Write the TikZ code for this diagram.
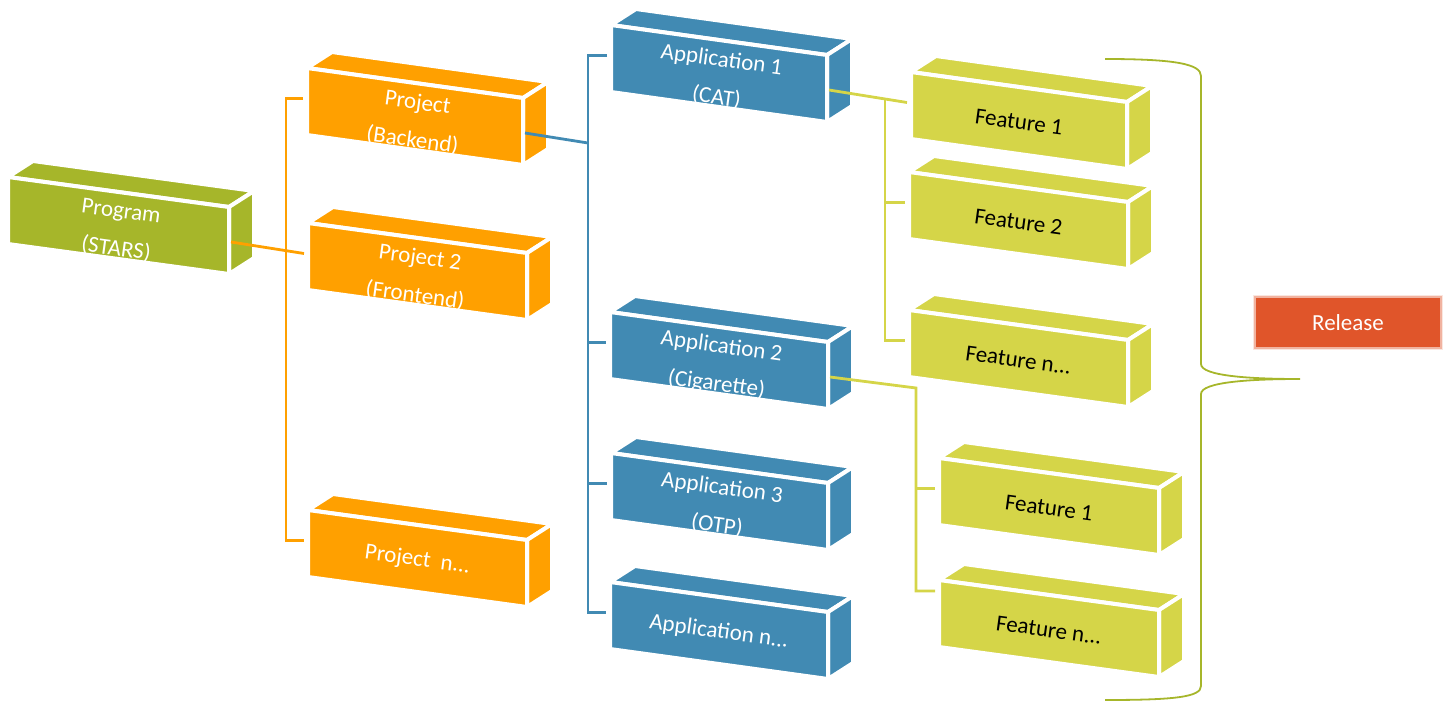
\documentclass[tikz,border=0pt]{standalone}
\usepackage{fontspec}
\setmainfont{Carlito}
\usetikzlibrary{calc}
\definecolor{gcol}{HTML}{A6B62A}
\definecolor{ocol}{HTML}{FFA000}
\definecolor{bcol}{HTML}{418AB3}
\definecolor{ycol}{HTML}{D5D548}
\definecolor{rcol}{HTML}{E0552A}
\tikzset{
  cubeface/.style={draw=white, line width=4, line join=miter},
  cubetext/.style={font=\fontsize{23}{38}\selectfont, align=center, rotate=-7.8, inner sep=0pt},
  conn/.style={line width=2.8},
}
\newcommand\cubebox[8]{%
  \begin{scope}[shift={(#2,#3)}]
    \filldraw[cubeface, fill=#5] (0,0) -- (25,-16) -- (#4+25,14) -- (#4,30) -- cycle;
    \filldraw[cubeface, fill=#5] (#4,30) -- (#4+25,14) -- (#4+25,81) -- (#4,97) -- cycle;
    \filldraw[cubeface, fill=#5] (0,0) -- (#4,30) -- (#4,97) -- (0,67) -- cycle;
    \node[cubetext, text=#6] (#1) at (#4/2,#8) {#7};
    \coordinate (#1-l) at (-4,30.5);
    \coordinate (#1-r) at (#4+2,65);
  \end{scope}}
\begin{document}
\begin{tikzpicture}[x=1pt,y=-1pt]
\useasboundingbox (0,0) rectangle (1449,702);
% boxes
\cubebox{prog}{8}{177}{221}{gcol}{white}{Program\\(STARS)}{54}
\cubebox{pb}{307}{68}{216}{ocol}{white}{Project\\(Backend)}{54}
\cubebox{p2}{308}{223}{219}{ocol}{white}{Project 2\\(Frontend)}{54}
\cubebox{pn}{308}{510}{219}{ocol}{white}{Project\ \ n...}{50}
\cubebox{a1}{611}{25}{216}{bcol}{white}{Application 1\\(CAT)}{54}
\cubebox{a2}{610}{312}{218}{bcol}{white}{Application 2\\(Cigarette)}{54}
\cubebox{a3}{611}{453}{217}{bcol}{white}{Application 3\\(OTP)}{54}
\cubebox{an}{610}{582}{218}{bcol}{white}{Application n...}{50}
\cubebox{f1}{911}{72}{216}{ycol}{black}{Feature 1}{50}
\cubebox{f2}{909}{172}{219}{ycol}{black}{Feature 2}{50}
\cubebox{fn}{909}{310}{219}{ycol}{black}{Feature n...}{50}
\cubebox{g1}{939}{458}{220}{ycol}{black}{Feature 1}{50}
\cubebox{gn}{939}{580}{220}{ycol}{black}{Feature n...}{50}
% bus coordinates
\coordinate (obus) at (286,97);
\coordinate (bjoin) at (588,143);
\coordinate (ytop1) at (885,98);
\coordinate (yj2) at (916,388);
\coordinate (gn-s) at (935,591);
% orange connectors
\draw[conn, ocol] (prog-r) -- (p2-l);
\draw[conn, ocol] (pb-l) -- (pb-l -| obus) -- (pn-l -| obus) -- (pn-l);
% blue connectors
\draw[conn, bcol] (pb-r) -- (bjoin);
\draw[conn, bcol] (a1-l) -- (a1-l -| bjoin) -- (an-l -| bjoin) -- (an-l);
\draw[conn, bcol] (a2-l -| bjoin) -- (a2-l);
\draw[conn, bcol] (a3-l -| bjoin) -- (a3-l);
% yellow connectors
\draw[conn, ycol] (a1-r) -- (f1-l);
\draw[conn, ycol] (ytop1) -- (fn-l -| ytop1) -- (fn-l);
\draw[conn, ycol] (f2-l -| ytop1) -- (f2-l);
\draw[conn, ycol] (a2-r) -- (yj2) -- (gn-s -| yj2) -- (gn-s);
\draw[conn, ycol] (g1-l -| yj2) -- (g1-l);
% brace
\coordinate (brtop) at (1105,59);
\coordinate (brtip) at (1300,379);
\coordinate (brbot) at (1105,700);
\draw[gcol, line width=1.8] (brtop) .. controls (1175,59) and (1201,64) .. (1201,76)
  -- (1201,364) .. controls (1201,376) and (1250,379) .. (brtip)
  .. controls (1250,379) and (1201,382) .. (1201,394)
  -- (1201,686) .. controls (1201,697) and (1175,700) .. (brbot);
% release (soft edge)
\fill[rcol, opacity=0.15] (1253,295) rectangle (1443,350);
\fill[rcol, opacity=0.35] (1254,296) rectangle (1442,349);
\node[fill=rcol, minimum width=184pt, minimum height=49pt, inner sep=0pt,
  text=white, font=\fontsize{23}{26}\selectfont] (rel) at (1348,322.5) {Release};
\end{tikzpicture}
\end{document}
